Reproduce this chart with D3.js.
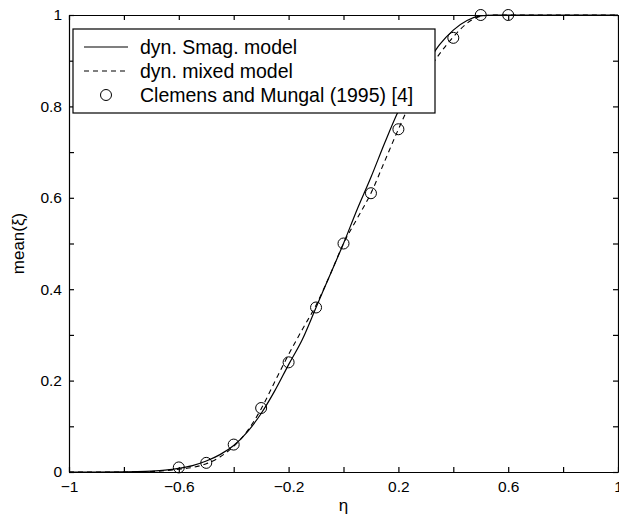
<!DOCTYPE html>
<html><head><meta charset="utf-8">
<script src="https://cdn.jsdelivr.net/npm/d3@7"></script>
<style>body{margin:0;background:#fff}svg{display:block}</style>
</head><body><svg id="c" width="619" height="517"></svg>
<script>
// ---- data ----
const eta = [-1, -0.9, -0.8, -0.75, -0.7, -0.65, -0.6, -0.55, -0.5, -0.45, -0.4, -0.35, -0.3, -0.25, -0.2, -0.15, -0.1, -0.05, 0, 0.05, 0.1, 0.15, 0.2, 0.25, 0.3, 0.35, 0.4, 0.45, 0.5, 0.55, 0.6, 0.7, 0.8, 0.9, 1];
const smagValues = [0, 0, 0.0005, 0.001, 0.002, 0.004, 0.008, 0.014, 0.024, 0.038, 0.058, 0.088, 0.128, 0.178, 0.235, 0.29, 0.36, 0.43, 0.5, 0.575, 0.645, 0.72, 0.79, 0.845, 0.89, 0.935, 0.967, 0.988, 0.998, 1, 1, 1, 1, 1, 1];
const mixedValues = [0, 0, 0, 0.0005, 0.001, 0.003, 0.006, 0.01, 0.018, 0.033, 0.056, 0.09, 0.138, 0.198, 0.257, 0.312, 0.365, 0.43, 0.5, 0.555, 0.61, 0.68, 0.75, 0.815, 0.87, 0.915, 0.952, 0.982, 0.997, 1, 1, 1, 1, 1, 1];
const expEta = [-0.6, -0.5, -0.4, -0.3, -0.2, -0.1, 0, 0.1, 0.2, 0.3, 0.4, 0.5, 0.6];
const expValues = [0.01, 0.02, 0.06, 0.14, 0.24, 0.36, 0.5, 0.61, 0.75, 0.87, 0.95, 1.0, 1.0];
const xTicks = [-1, -0.8, -0.6, -0.4, -0.2, 0, 0.2, 0.4, 0.6, 0.8, 1];
const xTickLabels = ["\u22121", "", "\u22120.6", "", "\u22120.2", "", "0.2", "", "0.6", "", "1"];
const yTicks = [0, 0.1, 0.2, 0.3, 0.4, 0.5, 0.6, 0.7, 0.8, 0.9, 1];
const yTickLabels = ["0", "", "0.2", "", "0.4", "", "0.6", "", "0.8", "", "1"];
const seriesNames = ["dyn. Smag. model", "dyn. mixed model", "Clemens and Mungal (1995) [4]"];

// ---- layout ----
const L = 69, R = 618, T = 15, B = 472;
const svg = d3.select("#c");
const x = d3.scaleLinear().domain([-1, 1]).range([L, R]);
const y = d3.scaleLinear().domain([0, 1]).range([B, T]);
const font = "'Liberation Sans', Arial, Helvetica, sans-serif";

// curves
const line = d3.line().x(d => x(d[0])).y(d => y(d[1])).curve(d3.curveMonotoneX);
svg.append("path").datum(eta.map((e, i) => [e, smagValues[i]]))
  .attr("d", line).attr("fill", "none").attr("stroke", "#000").attr("stroke-width", 1.2);
svg.append("path").datum(eta.map((e, i) => [e, mixedValues[i]]))
  .attr("d", line).attr("fill", "none").attr("stroke", "#000").attr("stroke-width", 1.1)
  .attr("stroke-dasharray", "5,4");
svg.append("g").selectAll("circle").data(expEta.map((e, i) => [e, expValues[i]]))
  .join("circle").attr("cx", d => x(d[0])).attr("cy", d => y(d[1])).attr("r", 5.5)
  .attr("fill", "none").attr("stroke", "#000").attr("stroke-width", 1);

// axes (inward ticks on all 4 sides)
function styleAxis(g) {
  g.selectAll("path.domain").attr("stroke", "#000").attr("stroke-width", 1.2);
  g.selectAll(".tick line").attr("stroke", "#000").attr("stroke-width", 1.2);
  g.selectAll("text").attr("font-family", font).attr("font-size", 15.5).attr("fill", "#000");
}
svg.append("g").attr("transform", `translate(0,${B})`)
  .call(d3.axisBottom(x).tickValues(xTicks).tickSize(-5).tickSizeOuter(0).tickPadding(9)
    .tickFormat((d, i) => xTickLabels[i])).call(styleAxis);
svg.append("g").attr("transform", `translate(0,${T})`)
  .call(d3.axisTop(x).tickValues(xTicks).tickSize(-5).tickSizeOuter(0).tickFormat(() => "")).call(styleAxis);
svg.append("g").attr("transform", `translate(${L},0)`)
  .call(d3.axisLeft(y).tickValues(yTicks).tickSize(-5).tickSizeOuter(0).tickPadding(7)
    .tickFormat((d, i) => yTickLabels[i])).call(styleAxis);
svg.append("g").attr("transform", `translate(${R},0)`)
  .call(d3.axisRight(y).tickValues(yTicks).tickSize(-5).tickSizeOuter(0).tickFormat(() => "")).call(styleAxis);

// axis labels
svg.append("text").attr("x", (L + R) / 2).attr("y", 511).attr("text-anchor", "middle")
  .attr("font-family", font).attr("font-size", 17).text("\u03b7");
svg.append("text").attr("transform", `translate(24,${(T + B) / 2}) rotate(-90)`)
  .attr("text-anchor", "middle").attr("font-family", font).attr("font-size", 17).text("mean(\u03be)");

// legend
const lg = svg.append("g");
lg.append("rect").attr("x", 73).attr("y", 29).attr("width", 362).attr("height", 84)
  .attr("fill", "#fff").attr("stroke", "#000").attr("stroke-width", 1.2);
const rows = [47, 71, 95];
lg.append("line").attr("x1", 84).attr("x2", 128).attr("y1", rows[0]).attr("y2", rows[0])
  .attr("stroke", "#000").attr("stroke-width", 1.2);
lg.append("line").attr("x1", 84).attr("x2", 128).attr("y1", rows[1]).attr("y2", rows[1])
  .attr("stroke", "#000").attr("stroke-width", 1.1).attr("stroke-dasharray", "5,4");
lg.append("circle").attr("cx", 106).attr("cy", rows[2]).attr("r", 5.5)
  .attr("fill", "none").attr("stroke", "#000");
lg.selectAll("text.lab").data(seriesNames).join("text").attr("class", "lab")
  .attr("x", 140).attr("y", (d, i) => rows[i]).attr("dy", "0.35em")
  .attr("font-family", font).attr("font-size", 19.5).text(d => d);
</script></body></html>
